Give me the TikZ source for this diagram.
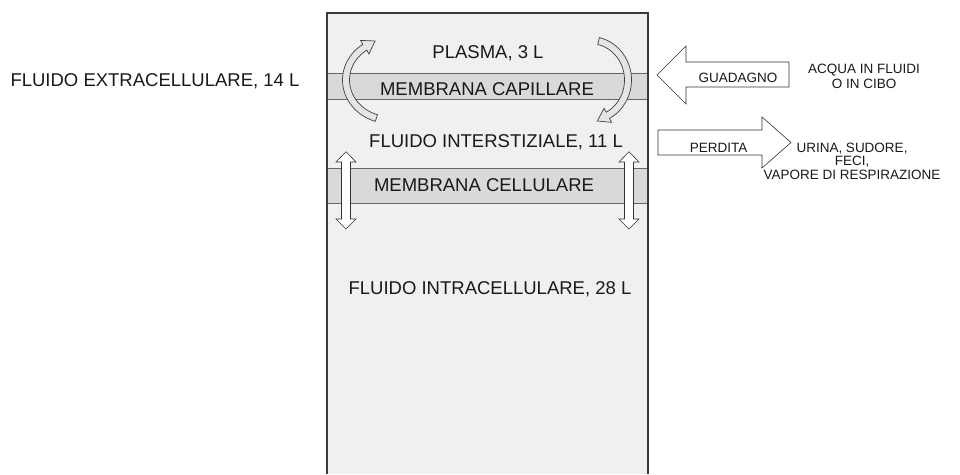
\documentclass[tikz,border=0pt]{standalone}
\usepackage{fontspec}
\setmainfont{Liberation Sans}
\usetikzlibrary{calc}
\definecolor{boxfill}{HTML}{F0F0F0}
\definecolor{bandfill}{HTML}{D9D9D9}
\definecolor{edge}{HTML}{3A3A3A}

\begin{document}
\begin{tikzpicture}[x=1pt,y=-1pt,
    lbl/.style={inner sep=0pt,text=black!90,font=\fontsize{18.5}{20}\selectfont},
    small/.style={inner sep=0pt,align=center,text=black!90,font=\fontsize{13.5}{15.5}\selectfont},
    band/.style={fill=bandfill,draw=black!60,line width=0.8pt},
    blockarrow/.style={fill=white,draw=black!80,line width=0.6pt,line join=miter},
    curvearrow/.style={fill=white!90!black,draw=black!75,line width=0.7pt}]
  \useasboundingbox (0,0) rectangle (960,474);
  % compartment column
  \fill[boxfill] (327,13) rectangle (648,474);
  \draw[band] (327,73) rectangle (648,99);
  \draw[band] (327,168) rectangle (648,203);
  \draw[edge,line width=1.2pt] (327,474) -- (327,13) -- (648,13) -- (648,474);
  \node[lbl] (plasma) at (488,53.5) {PLASMA, 3 L};
  \node[lbl] (capmem) at (487,89) {MEMBRANA CAPILLARE};
  \node[lbl] (inter) at (496,142) {FLUIDO INTERSTIZIALE, 11 L};
  \node[lbl] (cellmem) at (484,185.5) {MEMBRANA CELLULARE};
  \node[lbl] (intra) at (490,289.5) {FLUIDO INTRACELLULARE, 28 L};
  \node[lbl] (extra) at (155,81.5) {FLUIDO EXTRACELLULARE, 14 L};
  % exchange across the capillary membrane
  \coordinate (lc) at (390,80);
  \coordinate (lb) at ($(lc)+(235:44 and 40)$);
  \coordinate (la) at ($(lc)+(237:44 and 40)$);
  \coordinate (lt) at ($(lb)!12pt!(la)$);
  \filldraw[curvearrow] ($(lc)+(108:47.5 and 43.5)$) arc[start angle=108,end angle=235,x radius=47.5,y radius=43.5]
    -- ($(lb)!8pt!90:(lt)$) -- (lt) -- ($(lb)!8pt!-90:(lt)$)
    -- ($(lc)+(235:40.5 and 36.5)$) arc[start angle=235,end angle=108,x radius=40.5,y radius=36.5] -- cycle;
  \coordinate (rc) at (590,80);
  \coordinate (rb) at ($(rc)+(62:38 and 40)$);
  \coordinate (ra) at ($(rc)+(64:38 and 40)$);
  \coordinate (rt) at ($(rb)!12pt!(ra)$);
  \filldraw[curvearrow] ($(rc)+(-77:41.5 and 43.5)$) arc[start angle=-77,end angle=62,x radius=41.5,y radius=43.5]
    -- ($(rb)!8pt!90:(rt)$) -- (rt) -- ($(rb)!8pt!-90:(rt)$)
    -- ($(rc)+(62:34.5 and 36.5)$) arc[start angle=62,end angle=-77,x radius=34.5,y radius=36.5] -- cycle;
  % exchange across the cell membrane
  \foreach \x in {346,629}
    \filldraw[blockarrow] (\x,151.7) -- ({\x+10},162) -- ({\x+4.5},162) -- ({\x+4.5},219) -- ({\x+10},219)
      -- (\x,229) -- ({\x-10},219) -- ({\x-4.5},219) -- ({\x-4.5},162) -- ({\x-10},162) -- cycle;
  % gain and loss
  \filldraw[blockarrow] (657,75) -- (686,46) -- (686,62) -- (789,62) -- (789,87) -- (686,87) -- (686,104) -- cycle;
  \node[small] (gain) at (738,78) {GUADAGNO};
  \node[small] (gainsrc) at (864,76.5) {ACQUA IN FLUIDI\\O IN CIBO};
  \filldraw[blockarrow] (658,130) -- (762,130) -- (762,117) -- (791,142.5) -- (762,168) -- (762,155) -- (658,155) -- cycle;
  \node[small] (loss) at (718.5,147.5) {PERDITA};
  \node[small,font=\fontsize{13.5}{13.5}\selectfont] (lossdst) at (852,161) {URINA, SUDORE,\\FECI,\\VAPORE DI RESPIRAZIONE};
\end{tikzpicture}
\end{document}
